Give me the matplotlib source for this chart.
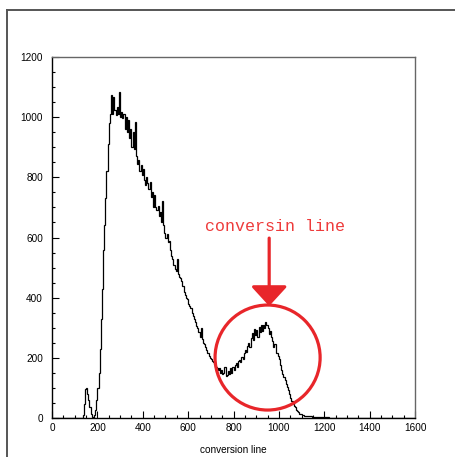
import numpy as np
import matplotlib
matplotlib.use("Agg")
import matplotlib.pyplot as plt
from matplotlib.patches import Ellipse
from matplotlib.lines import Line2D

# Histogram: bin width 5 on 0..1600
bin_width = 5
x_min, x_max = 0, 1600
y_min, y_max = 0, 1200

# counts for bins starting at 130 (everything else is empty)
first_bin = 130
counts = [
    0, 10, 45, 95, 100, 80, 60, 35, 15, 5,                  # 130-175
    0, 10, 25, 60, 100, 150, 230, 330, 430, 560,            # 180-225
    640, 730, 820, 910, 980, 1010, 1073, 1011, 1067, 1025,  # 230-275
    1007, 1034, 1010, 1084, 1000, 1017, 997, 1010, 960, 1000,  # 280-325
    950, 990, 930, 960, 900, 950, 894, 984, 870, 845,       # 330-375
    858, 820, 840, 808, 828, 790, 775, 800, 780, 760,       # 380-425
    784, 735, 750, 700, 740, 700, 690, 705, 670, 685,       # 430-475
    652, 720, 640, 615, 600, 610, 585, 590, 560, 540,       # 480-525
    530, 510, 495, 490, 530, 480, 470, 465, 455, 440,       # 530-575
    420, 410, 400, 395, 380, 372, 365, 350, 338, 330,       # 580-625
    318, 305, 300, 285, 270, 300, 262, 250, 245, 235,       # 630-675
    226, 215, 205, 200, 195, 190, 187, 178, 171, 165,       # 680-725
    160, 165, 150, 160, 145, 148, 170, 140, 143, 155,       # 730-775
    145, 165, 150, 171, 160, 175, 182, 170, 190, 193,       # 780-825
    185, 204, 195, 215, 226, 220, 240, 248, 235, 265,       # 830-875
    281, 260, 295, 275, 292, 270, 304, 285, 310, 290,       # 880-925
    309, 300, 320, 310, 298, 280, 290, 270, 255, 237,       # 930-975
    245, 215, 215, 205, 195, 175, 160, 145, 135, 125,       # 980-1025
    112, 102, 93, 80, 68, 58, 48, 40, 35, 28,               # 1030-1075
    24, 20, 15, 12, 10, 9, 8, 8, 7, 7,                      # 1080-1125
    6, 6, 6, 5, 5, 5, 4, 4, 4, 4,                           # 1130-1175
    3, 3, 3, 3, 2, 2, 2, 2, 1, 1,                           # 1180-1225
    1, 1, 1, 1, 1, 0, 1, 0, 0, 0,                           # 1230-1275
]

edges = np.arange(x_min, x_max + bin_width, bin_width)
values = np.zeros(len(edges) - 1)
start = (first_bin - x_min) // bin_width
values[start:start + len(counts)] = counts

# annotation
note_text = "conversin line"
axis_title = "conversion line"
circle_center = (950, 201)
arrow_x = 957
arrow_top, arrow_tip = 598, 372
text_pos = (983, 635)

red = "#e8262a"

fig = plt.figure(figsize=(4.55, 4.57), dpi=100)
ax = fig.add_axes([0.1143, 0.0853, 0.798, 0.790])

ax.stairs(values, edges, color="black", linewidth=0.9)

ax.set_xlim(x_min, x_max)
ax.set_ylim(y_min, y_max)
ax.set_xticks(np.arange(0, 1601, 200))
ax.set_yticks(np.arange(0, 1201, 200))
ax.set_xticks(np.arange(0, 1601, 50), minor=True)
ax.set_yticks(np.arange(0, 1201, 50), minor=True)
ax.tick_params(which="both", direction="in", top=False, right=False,
               labelsize=7.2, width=0.8, color="black")
ax.tick_params(which="major", length=5)
ax.tick_params(which="minor", length=2.5)
ax.tick_params(axis="y", pad=6.5)
ax.tick_params(axis="x", pad=3.5)
for lab in ax.get_xticklabels() + ax.get_yticklabels():
    lab.set_family("Liberation Sans")

for side in ("left", "bottom"):
    ax.spines[side].set_linewidth(1.0)
    ax.spines[side].set_color("black")
for side in ("top", "right"):
    ax.spines[side].set_linewidth(1.0)
    ax.spines[side].set_color("#666666")

ax.set_xlabel(axis_title, fontsize=7.2, family="Liberation Sans", labelpad=8.5)

# highlight the conversion peak
ax.add_patch(Ellipse(circle_center, width=463, height=349, fill=False,
                     edgecolor=red, linewidth=2.3, clip_on=False))
ax.annotate("", xy=(arrow_x, arrow_tip), xytext=(arrow_x, arrow_top),
            arrowprops=dict(arrowstyle="-|>,head_length=1.22,head_width=1.12",
                            mutation_scale=10, color=red, lw=2.3,
                            shrinkA=0, shrinkB=0),
            annotation_clip=False)
ax.text(*text_pos, note_text, color="#ee3b3b", fontsize=12,
        family="Liberation Mono", ha="center", va="center", clip_on=False)

# canvas frame
fig.add_artist(Line2D([0.0154, 0.0154], [0.0, 0.978], transform=fig.transFigure,
                      color="#555555", linewidth=1.4))
fig.add_artist(Line2D([0.0154, 1.0], [0.978, 0.978], transform=fig.transFigure,
                      color="#555555", linewidth=1.4))

fig.savefig("out.png", dpi=100)
